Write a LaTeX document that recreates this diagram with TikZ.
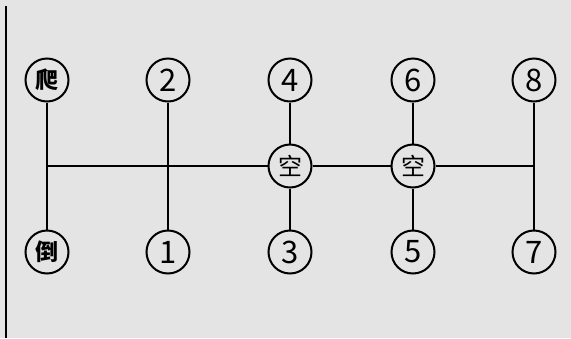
\documentclass[tikz,border=0pt]{standalone}
\usepackage{fontspec}
\setmainfont{Noto Sans CJK SC}
\definecolor{paper}{HTML}{E4E4E4}
\begin{document}
\begin{tikzpicture}[x=1pt,y=-1pt, line width=2pt,
  gear/.style={draw,circle,minimum size=43pt,inner sep=0pt,font=\fontsize{31}{31}\selectfont},
  hz/.style={gear,font=\fontsize{23}{23}\selectfont\bfseries}]
\fill[paper] (0,0) rectangle (571,338);
\useasboundingbox (0,0) rectangle (571,338);
\draw[line width=2.4pt] (6,6) -- (6,338);
\node[hz] (cr) at (47,80) {爬};
\node[hz] (rv) at (47,252) {倒};
\node[gear] (g2) at (168,80) {2};
\node[gear] (g1) at (168,252) {1};
\node[gear] (g4) at (290,80) {4};
\node[gear] (g3) at (290,252) {3};
\node[gear] (g6) at (413,80) {6};
\node[gear] (g5) at (413,252) {5};
\node[gear] (g8) at (534,80) {8};
\node[gear] (g7) at (534,252) {7};
\node[hz,font=\fontsize{24}{24}\selectfont] (n1) at (290,166) {空};
\node[hz,font=\fontsize{24}{24}\selectfont] (n2) at (413,166) {空};
\coordinate (hl) at (47,166);
\coordinate (hr) at (534,166);
% shift gate
\draw (cr) -- (rv);
\draw (g2) -- (g1);
\draw (g4) -- (n1) -- (g3);
\draw (g6) -- (n2) -- (g5);
\draw (g8) -- (g7);
\draw (hl) -- (n1) -- (n2) -- (hr);
\end{tikzpicture}
\end{document}
